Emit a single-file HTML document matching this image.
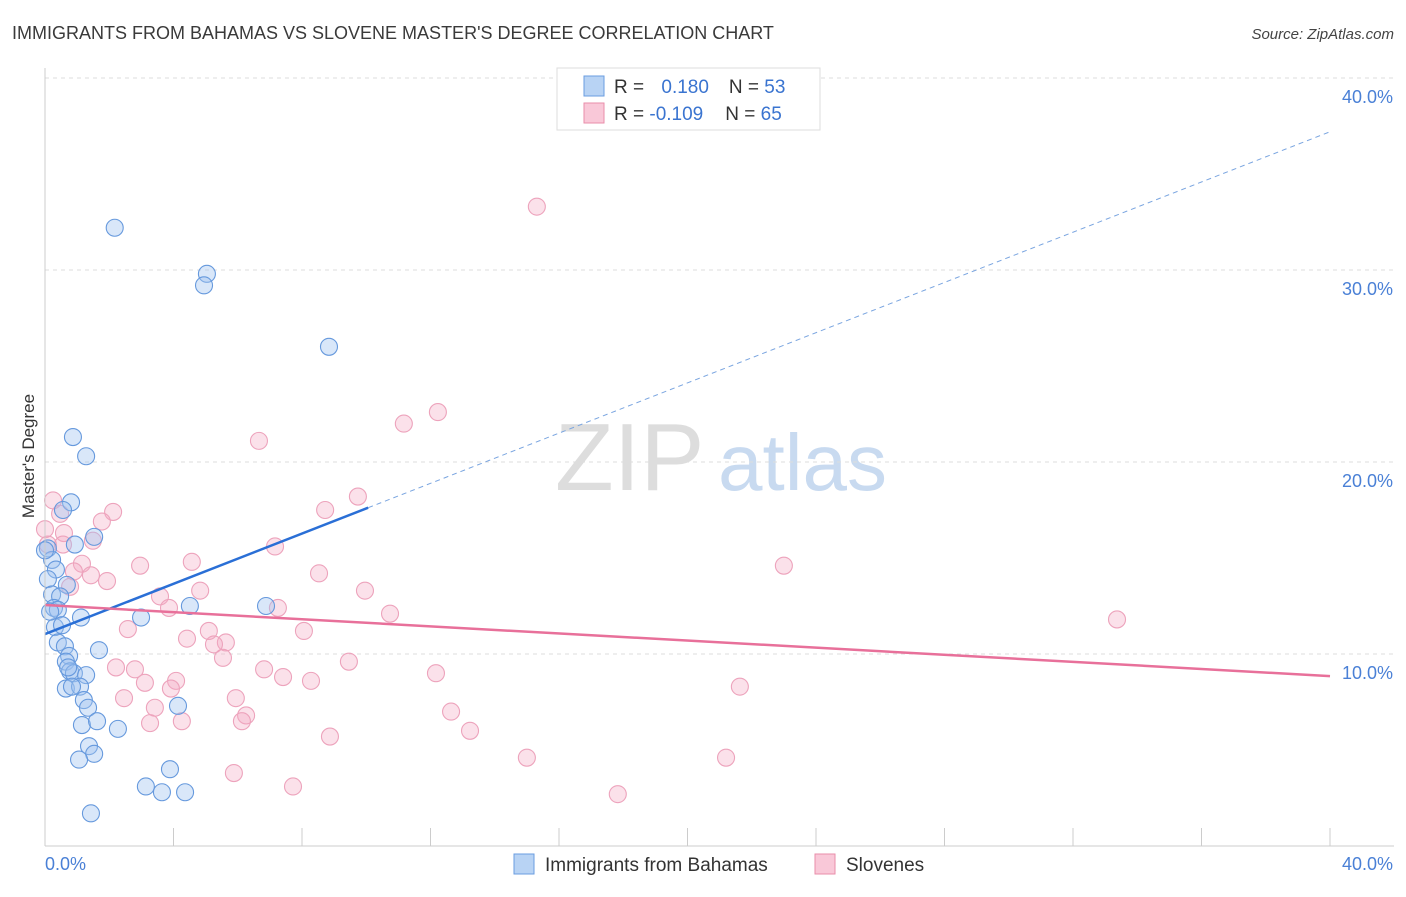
<!DOCTYPE html>
<html><head><meta charset="utf-8"><style>
body{margin:0;background:#fff;font-family:"Liberation Sans",sans-serif;}
svg text{font-family:"Liberation Sans",sans-serif;}
</style></head><body>
<svg id="chart" width="1406" height="892" xmlns="http://www.w3.org/2000/svg">
<text x="12" y="39" font-size="18" fill="#3a3a3a">IMMIGRANTS FROM BAHAMAS VS SLOVENE MASTER'S DEGREE CORRELATION CHART</text>
<text x="1394" y="39" font-size="15" fill="#444" text-anchor="end" font-style="italic">Source: ZipAtlas.com</text>
<text transform="translate(34,456) rotate(-90)" font-size="17" fill="#333" text-anchor="middle">Master's Degree</text>
<g><text x="555" y="490" font-size="96" fill="#ddd" font-family="Liberation Serif">ZIP</text><text x="718" y="490" font-size="80" fill="#c8daf0">atlas</text></g>
<g id="grid"></g><g id="pts"></g><g id="lines"></g>
<line x1="45" y1="68" x2="45" y2="846" stroke="#ccc"/>
<line x1="45" y1="846" x2="1394" y2="846" stroke="#ccc"/>
<text x="45" y="870" font-size="18" fill="#4a80d6">0.0%</text>
<text x="1393" y="870" font-size="18" fill="#4a80d6" text-anchor="end">40.0%</text>
<g>
<rect x="557" y="68" width="263" height="62" fill="#fff" stroke="#ddd"/>
<rect x="584" y="76" width="20" height="20" fill="#b8d3f4" stroke="#6a9de0"/>
<rect x="584" y="103" width="20" height="20" fill="#f9c8d8" stroke="#e98eaa"/>
<text x="614" y="93" font-size="19" fill="#333">R = <tspan fill="#3a74d0" dx="12">0.180</tspan><tspan fill="#333" dx="20">N = </tspan><tspan fill="#3a74d0">53</tspan></text>
<text x="614" y="120" font-size="19" fill="#333">R = <tspan fill="#3a74d0">-0.109</tspan><tspan fill="#333" dx="22">N = </tspan><tspan fill="#3a74d0">65</tspan></text>
</g>
<g><rect x="514" y="854" width="20" height="20" fill="#b8d3f4" stroke="#6a9de0"/><text x="545" y="871" font-size="19" fill="#333">Immigrants from Bahamas</text></g>
<g><rect x="815" y="854" width="20" height="20" fill="#f9c8d8" stroke="#e98eaa"/><text x="846" y="871" font-size="19" fill="#333">Slovenes</text></g>
</svg>
<script>
const yTicks=[10,20,30,40];
const yTickLabels=["10.0%","20.0%","30.0%","40.0%"];
const xTicks=[0,4,8,12,16,20,24,28,32,36,40];
const blueX=[2.17,5.04,4.95,8.84,0.87,1.28,0.81,0.56,1.53,0.93,0.09,0.22,0.34,0.09,0.68,0.22,0.47,0.28,0.40,1.12,2.99,4.51,6.88,0.31,0.53,0.40,0.62,0.75,0.65,1.68,0.78,0.90,1.28,0.65,1.09,1.21,1.34,4.14,1.15,1.62,2.27,1.37,1.53,1.06,3.14,3.89,3.64,4.36,1.43,0.0,0.16,0.72,0.84];
const blueY=[32.2,29.8,29.2,26.0,21.3,20.3,17.9,17.5,16.1,15.7,15.5,14.9,14.4,13.9,13.6,13.1,13.0,12.4,12.3,11.9,11.9,12.5,12.5,11.4,11.5,10.6,10.4,9.9,9.6,10.2,9.1,9.0,8.9,8.2,8.3,7.6,7.2,7.3,6.3,6.5,6.1,5.2,4.8,4.5,3.1,4.0,2.8,2.8,1.7,15.4,12.2,9.3,8.3];
const pinkX=[15.31,12.23,11.17,6.66,9.74,0.25,8.72,2.12,0.47,1.77,0.59,1.49,0.0,0.09,0.56,7.16,4.57,2.96,23.00,1.15,0.90,8.53,1.43,1.93,9.96,0.78,4.83,3.58,3.86,7.25,10.74,33.37,2.58,8.06,5.10,4.42,5.63,5.26,5.54,9.46,2.21,2.80,6.82,12.17,7.41,4.08,8.28,3.11,3.92,21.63,2.46,5.94,3.42,12.64,6.26,4.26,6.13,3.27,13.23,8.87,15.00,21.20,5.88,7.72,17.83];
const pinkY=[33.3,22.6,22.0,21.1,18.2,18.0,17.5,17.4,17.3,16.9,16.3,15.9,16.5,15.7,15.7,15.6,14.8,14.6,14.6,14.7,14.3,14.2,14.1,13.8,13.3,13.5,13.3,13.0,12.4,12.4,12.1,11.8,11.3,11.2,11.2,10.8,10.6,10.5,9.8,9.6,9.3,9.2,9.2,9.0,8.8,8.6,8.6,8.5,8.2,8.3,7.7,7.7,7.2,7.0,6.8,6.5,6.5,6.4,6.0,5.7,4.6,4.6,3.8,3.1,2.7];
const blueTrend=[11.04,37.2];
const pinkTrend=[12.55,8.85];
const X=v=>45+v/40*1285, Y=v=>846-v/10*192;
const NS="http://www.w3.org/2000/svg";
function mk(t,a,p){const e=document.createElementNS(NS,t);for(const k in a)e.setAttribute(k,a[k]);p.appendChild(e);return e;}
const grid=document.getElementById('grid');
yTicks.forEach((t,i)=>{
 const l=mk('line',{x1:45,x2:1394,y1:Y(t),y2:Y(t),stroke:'#ddd','stroke-dasharray':'4,4'},grid);
 
 
 const tx=mk('text',{x:1393,y:Y(t)+25,'font-size':18,fill:'#4a80d6','text-anchor':'end'},grid);
 tx.textContent=yTickLabels[i];
 
 
});
xTicks.forEach(t=>{
 const l=mk('line',{x1:X(t),x2:X(t),y1:828,y2:846,stroke:'#ccc'},grid);
 
 
});
const pts=document.getElementById('pts');
pinkX.forEach((x,i)=>{
 const c=mk('circle',{cx:X(x),cy:Y(pinkY[i]),r:8.5,fill:'rgba(244,170,195,0.35)',stroke:'#eda3bc','stroke-width':1.1},pts);
 
 
});
blueX.forEach((x,i)=>{
 const c=mk('circle',{cx:X(x),cy:Y(blueY[i]),r:8.5,fill:'rgba(160,196,240,0.4)',stroke:'#6699dd','stroke-width':1.1},pts);
 
 
});
const lines=document.getElementById('lines');
const by=x=>blueTrend[0]+(blueTrend[1]-blueTrend[0])*x/40;
let b1=mk('line',{x1:X(0),y1:Y(by(0)),x2:X(10.06),y2:Y(by(10.06)),stroke:'#2a6fd6','stroke-width':2.5},lines);


let b2=mk('line',{x1:X(10.06),y1:Y(by(10.06)),x2:X(40),y2:Y(by(40)),stroke:'#7aa5e0','stroke-width':1,'stroke-dasharray':'5,4'},lines);


let p1=mk('line',{x1:X(0),y1:Y(pinkTrend[0]),x2:X(40),y2:Y(pinkTrend[1]),stroke:'#e8709a','stroke-width':2.5},lines);


</script>
</body></html>
